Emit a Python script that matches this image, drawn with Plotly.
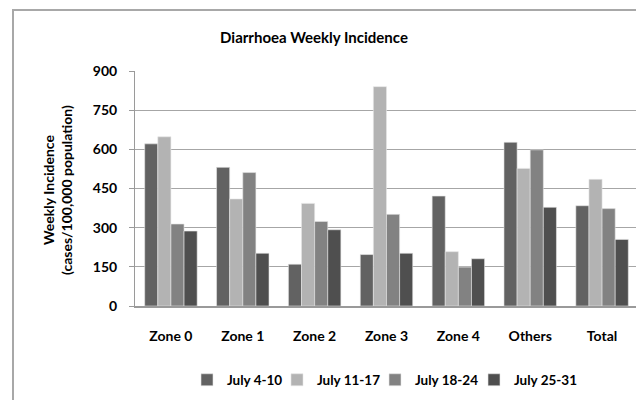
import plotly.graph_objects as go

categories = ["Zone 0", "Zone 1", "Zone 2", "Zone 3", "Zone 4", "Others", "Total"]
series_names = ["July 4-10", "July 11-17", "July 18-24", "July 25-31"]
july_4_10 = [621, 531, 160, 197, 421, 627, 384]
july_11_17 = [648, 410, 393, 840, 208, 527, 485]
july_18_24 = [314, 511, 324, 351, 149, 598, 373]
july_25_31 = [287, 202, 292, 202, 181, 378, 255]
y_ticks = [0, 150, 300, 450, 600, 750, 900]

series_values = [july_4_10, july_11_17, july_18_24, july_25_31]
colors = ["#626262", "#b3b3b3", "#828282", "#4f4f4f"]

FONT = "Lato"

# page body has an 8px margin; layout below is expressed in screen pixels
OFF = 8
W, H = 644, 400
plot_left, plot_right, plot_top, plot_bottom = 135, 638, 71, 306
L = plot_left - OFF
R = W - (plot_right - OFF)
T = plot_top - OFF
B = H - (plot_bottom - OFF)
pw, ph = W - L - R, H - T - B

def px_x(p):
    return (p - plot_left) / pw

def px_y(p):
    return (plot_bottom - p) / ph

legend_ids = ["legend", "legend2", "legend3", "legend4"]
legend_marker_px = [213, 303, 401, 500]

fig = go.Figure()
for name, vals, col, lid in zip(series_names, series_values, colors, legend_ids):
    fig.add_trace(go.Bar(
        x=categories, y=vals, name=name, legend=lid,
        marker=dict(color=col, line=dict(color="#e6e6e6", width=0.6)),
    ))

legend_layouts = {}
for lid, mx in zip(legend_ids, legend_marker_px):
    legend_layouts[lid] = dict(
        orientation="h", xref="paper", x=px_x(mx - 26), xanchor="left",
        yref="paper", y=px_y(380), yanchor="middle",
        font=dict(family=FONT, size=13.5, color="#000000", weight="bold"),
        itemwidth=30, bgcolor="rgba(0,0,0,0)",
    )

fig.update_layout(
    width=W, height=H,
    margin=dict(l=L, r=R, t=T, b=B),
    paper_bgcolor="white", plot_bgcolor="white",
    barmode="group", bargap=0.27, bargroupgap=0,
    font=dict(family=FONT, size=13, color="#000000"),
    title=dict(text="<b>Diarrhoea Weekly Incidence</b>",
               font=dict(family=FONT, size=15, color="#000000"),
               xref="paper", x=px_x(314), xanchor="center",
               yref="container", y=1 - (38 - OFF) / H, yanchor="middle"),
    showlegend=True,
    xaxis=dict(
        showgrid=False, showline=True, linecolor="#9a9a9a", linewidth=1.5,
        ticks="",
        tickfont=dict(family=FONT, size=14, color="#000000", weight="bold"),
        ticklabelstandoff=16,
    ),
    yaxis=dict(
        range=[0, 900], tickvals=y_ticks, ticktext=[str(v) for v in y_ticks],
        showgrid=True, gridcolor="#a6a6a6", gridwidth=1,
        showline=True, linecolor="#9a9a9a", linewidth=1,
        ticks="outside", ticklen=5, tickcolor="#9a9a9a",
        tickfont=dict(family=FONT, size=14, color="#000000", weight="bold"),
        ticklabelstandoff=9, zeroline=False,
    ),
    shapes=[dict(type="rect", xref="paper", yref="paper",
                 x0=px_x(13), x1=px_x(680), y0=px_y(440), y1=px_y(10),
                 line=dict(color="#a8a8a8", width=2), layer="below")],
    annotations=[dict(text="<b>Weekly Incidence<br>(cases/100,000 population)</b>",
                      xref="paper", yref="paper", x=px_x(57), y=px_y(190),
                      textangle=-90, showarrow=False, xanchor="center", yanchor="middle",
                      font=dict(family=FONT, size=14, color="#000000"))],
    **legend_layouts,
)

fig.write_html("out.html")
